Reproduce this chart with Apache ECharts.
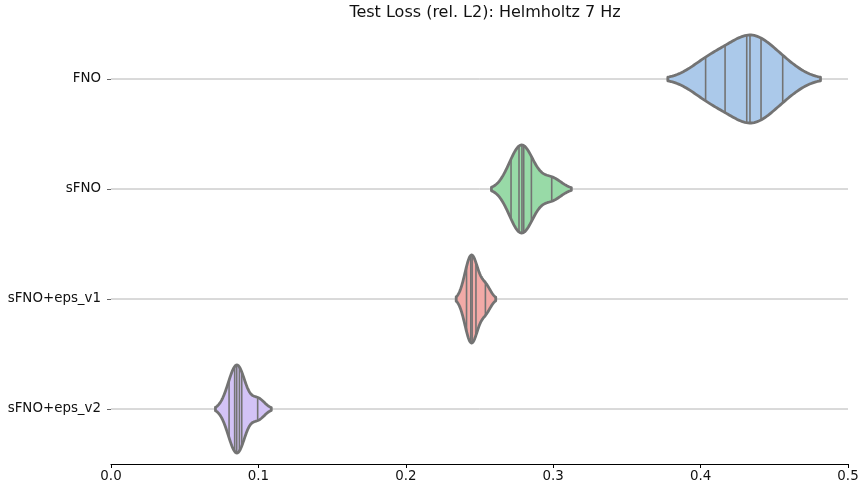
<!DOCTYPE html>
<html>
<head>
<meta charset="utf-8">
<script src="https://cdn.jsdelivr.net/npm/echarts@6/dist/echarts.min.js"></script>
<style>
html,body{margin:0;padding:0;background:#fff;}
#chart{width:859px;height:488px;}
</style>
</head>
<body>
<div id="chart"></div>
<script>
// ---- data ----
const categories = ['FNO', 'sFNO', 'sFNO+eps_v1', 'sFNO+eps_v2'];
const fnoValues = [0.4034, 0.4166, 0.4313, 0.4335, 0.4410, 0.4557];
const sfnoValues = [0.2714, 0.2768, 0.2788, 0.2800, 0.2852, 0.2990];
const epsV1Values = [0.2412, 0.2441, 0.2450, 0.2476, 0.2540];
const epsV2Values = [0.0801, 0.0839, 0.0853, 0.0871, 0.0887, 0.0995];
const xTicks = [0.0, 0.1, 0.2, 0.3, 0.4, 0.5];
const fillColors = ['#abc9ea', '#98daa7', '#f2aaa7', '#d3c3f6'];
const titleText = 'Test Loss (rel. L2): Helmholtz 7 Hz';

const groups = [fnoValues, sfnoValues, epsV1Values, epsV2Values];
const xMin = xTicks[0], xMax = xTicks[xTicks.length - 1];

// Gaussian KDE (Scott bandwidth, cut = 2, gridsize = 100), scaled to width
function kde(vals) {
  const n = vals.length;
  const mean = vals.reduce((a, b) => a + b, 0) / n;
  const sd = Math.sqrt(vals.reduce((a, b) => a + (b - mean) * (b - mean), 0) / (n - 1));
  const bw = sd * Math.pow(n, -0.2);
  const lo = Math.min(...vals) - 2 * bw, hi = Math.max(...vals) + 2 * bw;
  const dens = x => vals.reduce((a, v) => a + Math.exp(-0.5 * Math.pow((x - v) / bw, 2)), 0);
  const grid = [];
  for (let i = 0; i < 100; i++) { const x = lo + (hi - lo) * i / 99; grid.push([x, dens(x)]); }
  const mx = Math.max(...grid.map(g => g[1]));
  return { grid: grid.map(g => [g[0], g[1] / mx]), at: x => dens(x) / mx };
}
const kdes = groups.map(kde);

const chart = echarts.init(document.getElementById('chart'), null, { renderer: 'canvas' });
const font = 'DejaVu Sans';
chart.setOption({
  animation: false,
  title: {
    text: titleText, left: 480, top: 0, textAlign: 'center',
    textStyle: { fontFamily: font, fontSize: 16, fontWeight: 'normal', color: '#111' }
  },
  grid: { left: 111, right: 11, top: 24, bottom: 24, containLabel: false, outerBoundsMode: 'none' },
  xAxis: {
    type: 'value', min: xMin, max: xMax, interval: 0.1,
    axisLine: { show: true, lineStyle: { color: '#000', width: 1.2 } },
    axisTick: { show: true, length: 4, lineStyle: { color: '#000' } },
    axisLabel: { fontFamily: font, fontSize: 13.4, color: '#111', margin: 6, formatter: v => v.toFixed(1) },
    splitLine: { show: false }
  },
  yAxis: {
    type: 'category', data: categories, inverse: true,
    axisLine: { show: false },
    axisTick: { show: true, alignWithLabel: true, length: 4, lineStyle: { color: '#666' } },
    axisLabel: { fontFamily: font, fontSize: 13.4, color: '#111', margin: 10 },
    splitLine: { show: false }
  },
  series: [{
    type: 'custom',
    data: categories.map((c, i) => [xMin, i]),
    encode: { x: 0, y: 1 },
    renderItem: function (params, api) {
      const idx = params.dataIndex;
      const k = kdes[idx];
      const half = api.size([0, 1])[1] * 0.4;
      const cy = api.coord([xMin, idx])[1];
      const top = [], bot = [];
      k.grid.forEach(g => {
        const px = api.coord([g[0], idx])[0];
        top.push([px, cy - half * g[1]]);
        bot.push([px, cy + half * g[1]]);
      });
      const poly = top.concat(bot.reverse());
      const children = [];
      children.push({
        type: 'line',
        shape: { x1: api.coord([xMin, idx])[0], y1: cy, x2: api.coord([xMax, idx])[0], y2: cy },
        style: { stroke: '#b4b4b4', lineWidth: 1 }
      });
      children.push({
        type: 'polygon', shape: { points: poly },
        style: { fill: fillColors[idx], stroke: 'none' }
      });
      groups[idx].forEach(v => {
        const px = api.coord([v, idx])[0];
        const h = half * k.at(v);
        children.push({
          type: 'line', shape: { x1: px, y1: cy - h, x2: px, y2: cy + h },
          style: { stroke: '#737373', lineWidth: 1.6 }
        });
      });
      children.push({
        type: 'polygon', shape: { points: poly },
        style: { fill: 'none', stroke: '#737373', lineWidth: 2.8, lineJoin: 'round' }
      });
      return { type: 'group', children: children };
    }
  }]
});
</script>
</body>
</html>
